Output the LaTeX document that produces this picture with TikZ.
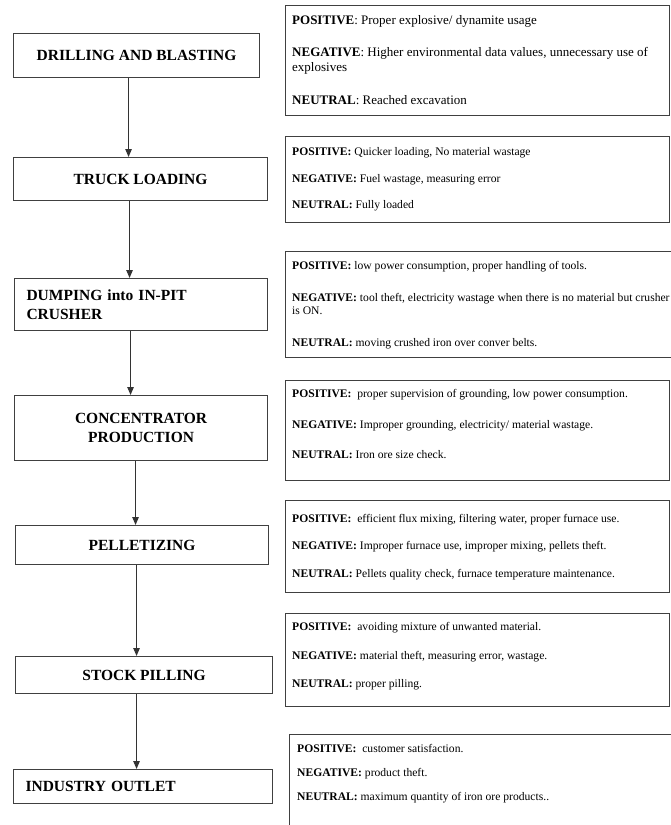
\documentclass[tikz,border=0pt]{standalone}
\usepackage{fontspec}
\setmainfont{Liberation Serif}
\usetikzlibrary{arrows.meta,positioning}

\begin{document}
\begin{tikzpicture}[x=1pt,y=-1pt,
    stage/.style={draw=black!75,line width=1.1pt,anchor=north west,inner sep=0pt,
      font=\fontsize{15.5}{19.5}\selectfont\bfseries},
    notebox/.style={draw=black!75,line width=1.1pt,anchor=north west,inner sep=0pt},
    notetext/.style={anchor=north west,inner sep=0pt,align=left,
      font=\fontsize{11.6}{13.5}\selectfont},
    flow/.style={draw=black!80,line width=1.1pt,-{Triangle[length=8pt,width=6.5pt]}}]
\useasboundingbox (0,0) rectangle (670,825);

% process steps
\node[stage,minimum width=246,minimum height=44] (drill) at (13,33) {DRILLING AND BLASTING};
\node[stage,minimum width=254,minimum height=43] (truck) at (13,157) {TRUCK LOADING};
\node[stage,minimum height=52,text width=229,inner xsep=12pt,align=left] (dump) at (14,278)
  {DUMPING into IN-PIT\\CRUSHER};
\node[stage,minimum width=253,minimum height=65,align=center] (conc) at (14,395)
  {CONCENTRATOR\\PRODUCTION};
\node[stage,minimum width=253,minimum height=39] (pellet) at (15,525) {PELLETIZING};
\node[stage,minimum width=257,minimum height=37] (stock) at (15,656) {STOCK PILLING};
\node[stage,minimum height=34,text width=235,inner xsep=12pt,align=left] (outlet) at (13,769)
  {INDUSTRY OUTLET};

\draw[flow] ([xshift=-8pt]drill.south) -- ([xshift=-8pt]drill.south |- truck.north);
\draw[flow] ([xshift=-11pt]truck.south) -- ([xshift=-11pt]truck.south |- dump.north);
\draw[flow] ([xshift=-10.5pt]dump.south) -- ([xshift=-10.5pt]dump.south |- conc.north);
\draw[flow] ([xshift=-5.5pt]conc.south) -- ([xshift=-5.5pt]conc.south |- pellet.north);
\draw[flow] ([xshift=-5.5pt]pellet.south) -- ([xshift=-5.5pt]pellet.south |- stock.north);
\draw[flow] ([xshift=-7.5pt]stock.south) -- ([xshift=-7.5pt]stock.south |- outlet.north);

% remarks
\node[notebox,minimum width=384,minimum height=110] (n1) at (285,5) {};
\node[notetext,font=\fontsize{13}{15}\selectfont] (t1) at ([xshift=7pt,yshift=-10pt]n1.north west)
  {\textbf{POSITIVE}: Proper explosive/ dynamite usage\\[17pt]
   \textbf{NEGATIVE}: Higher environmental data values, unnecessary use of\\
   explosives\\[18pt]
   \textbf{NEUTRAL}: Reached excavation};

\node[notebox,minimum width=384,minimum height=86] (n2) at (285,136) {};
\node[notetext] (t2) at ([xshift=7pt,yshift=-11pt]n2.north west)
  {\textbf{POSITIVE:} Quicker loading, No material wastage\\[13.5pt]
   \textbf{NEGATIVE:} Fuel wastage, measuring error\\[12.5pt]
   \textbf{NEUTRAL:} Fully loaded};

\node[notebox,minimum width=392,minimum height=106] (n3) at (285,251) {};
\node[notetext] (t3) at ([xshift=7pt,yshift=-10pt]n3.north west)
  {\textbf{POSITIVE:} low power consumption, proper handling of tools.\\[18.5pt]
   \textbf{NEGATIVE:} tool theft, electricity wastage when there is no material but crusher\\
   is ON.\\[18.5pt]
   \textbf{NEUTRAL:} moving crushed iron over conver belts.};

\node[notebox,minimum width=384,minimum height=100] (n4) at (285,380) {};
\node[notetext] (t4) at ([xshift=7pt,yshift=-9pt]n4.north west)
  {\textbf{POSITIVE:}\ \ proper supervision of grounding, low power consumption.\\[17.5pt]
   \textbf{NEGATIVE:} Improper grounding, electricity/ material wastage.\\[16.5pt]
   \textbf{NEUTRAL:} Iron ore size check.};

\node[notebox,minimum width=384,minimum height=92] (n5) at (285,500) {};
\node[notetext] (t5) at ([xshift=7pt,yshift=-14pt]n5.north west)
  {\textbf{POSITIVE:}\ \ efficient flux mixing, filtering water, proper furnace use.\\[13.5pt]
   \textbf{NEGATIVE:} Improper furnace use, improper mixing, pellets theft.\\[14.5pt]
   \textbf{NEUTRAL:} Pellets quality check, furnace temperature maintenance.};

\node[notebox,minimum width=384,minimum height=93] (n6) at (285,613) {};
\node[notetext] (t6) at ([xshift=7pt,yshift=-9pt]n6.north west)
  {\textbf{POSITIVE:}\ \ avoiding mixture of unwanted material.\\[15.5pt]
   \textbf{NEGATIVE:} material theft, measuring error, wastage.\\[14.5pt]
   \textbf{NEUTRAL:} proper pilling.};

\node[notebox,minimum width=388,minimum height=98] (n7) at (289,734) {};
\node[notetext] (t7) at ([xshift=8pt,yshift=-10pt]n7.north west)
  {\textbf{POSITIVE:}\ \ customer satisfaction.\\[10.5pt]
   \textbf{NEGATIVE:} product theft.\\[10.5pt]
   \textbf{NEUTRAL:} maximum quantity of iron ore products..};
\end{tikzpicture}
\end{document}
